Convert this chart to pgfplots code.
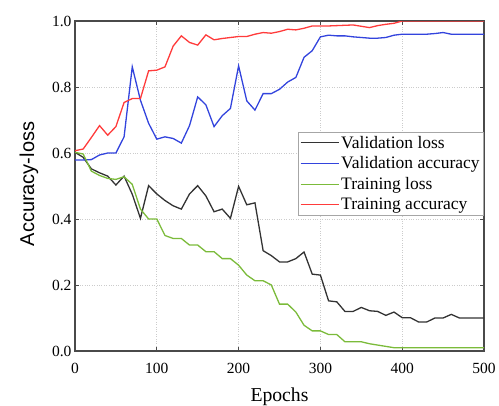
\documentclass[border=0pt]{standalone}
\usepackage{fontspec}
\setmainfont{Liberation Serif}
\newfontfamily\labelsans{Liberation Sans}
\usepackage{pgfplots}
\pgfplotsset{compat=1.18}

\definecolor{vloss}{HTML}{333333}
\definecolor{vacc}{HTML}{3344DD}
\definecolor{tloss}{HTML}{7BBB3A}
\definecolor{tacc}{HTML}{FF3B3B}
\definecolor{frame}{HTML}{4A4A4A}

\begin{document}
\begin{tikzpicture}
\begin{axis}[
    scale only axis,
    width=409pt,
    height=330pt,
    xmin=0, xmax=500,
    ymin=0, ymax=1,
    xtick={0,100,200,300,400,500},
    ytick={0,0.2,0.4,0.6,0.8,1.0},
    tick align=inside,
    major tick length=4pt,
    tick style={frame, line width=1pt},
    axis line style={frame, line width=1.4pt},
    grid=major,
    grid style={dotted, gray!40, line width=0.8pt},
    xlabel={Epochs},
    ylabel={\labelsans Accuracy-loss},
    xlabel style={font=\fontsize{19.7}{22}\selectfont,
        at={(axis description cs:0.5,0)}, anchor=base, yshift=-50.5pt},
    ylabel style={font=\fontsize{20}{22}\selectfont,
        at={(axis description cs:-0.1125,0.506)}, anchor=center},
    tick label style={font=\fontsize{15.5}{18}\selectfont},
    xticklabel style={anchor=base, yshift=-22pt},
    /pgf/number format/assume math mode=true,
    y tick label style={/pgf/number format/.cd, fixed, fixed zerofill, precision=1},
    legend style={
        at={(1,0.6645)}, anchor=north east,
        draw=gray!70, line width=0.6pt,
        font=\fontsize{17.5}{19}\selectfont,
        row sep=3pt, inner sep=2pt
    },
    legend cell align=left,
    legend image code/.code={\draw[#1, line width=1pt] (0pt,0pt) -- (38pt,0pt);},
    every axis plot/.append style={line width=1.3pt},
]

% Validation loss
\addplot[color=vloss] coordinates {
(0,0.602) (10,0.587) (20,0.552) (30,0.540) (40,0.530) (50,0.503)
(60,0.530) (70,0.475) (80,0.402) (90,0.501) (100,0.476) (110,0.456)
(120,0.440) (130,0.430) (140,0.476) (150,0.501) (160,0.470) (170,0.422)
(180,0.430) (190,0.402) (200,0.499) (210,0.443) (220,0.449) (230,0.304)
(240,0.289) (250,0.270) (260,0.270) (270,0.280) (280,0.300) (290,0.233)
(300,0.230) (310,0.152) (320,0.149) (330,0.120) (340,0.120) (350,0.132)
(360,0.122) (370,0.120) (380,0.108) (390,0.118) (400,0.101) (410,0.101)
(420,0.088) (430,0.088) (440,0.100) (450,0.100) (460,0.111) (470,0.100)
(480,0.100) (490,0.100) (500,0.100)
};
\addlegendentry{Validation loss}

% Validation accuracy
\addplot[color=vacc] coordinates {
(0,0.579) (10,0.579) (20,0.580) (30,0.594) (40,0.600) (50,0.600)
(60,0.649) (70,0.861) (80,0.760) (90,0.690) (100,0.642) (110,0.649)
(120,0.644) (130,0.630) (140,0.683) (150,0.770) (160,0.746) (170,0.680)
(180,0.713) (190,0.735) (200,0.864) (210,0.758) (220,0.730) (230,0.780)
(240,0.780) (250,0.793) (260,0.815) (270,0.829) (280,0.890) (290,0.910)
(300,0.952) (310,0.957) (320,0.955) (330,0.955) (340,0.952) (350,0.950)
(360,0.948) (370,0.948) (380,0.950) (390,0.957) (400,0.960) (410,0.960)
(420,0.960) (430,0.960) (440,0.962) (450,0.965) (460,0.960) (470,0.960)
(480,0.960) (490,0.960) (500,0.960)
};
\addlegendentry{Validation accuracy}

% Training loss
\addplot[color=tloss] coordinates {
(0,0.602) (10,0.597) (20,0.545) (30,0.532) (40,0.523) (50,0.520)
(60,0.528) (70,0.505) (80,0.430) (90,0.400) (100,0.400) (110,0.350)
(120,0.341) (130,0.341) (140,0.321) (150,0.321) (160,0.301) (170,0.301)
(180,0.280) (190,0.280) (200,0.260) (210,0.230) (220,0.213) (230,0.213)
(240,0.200) (250,0.142) (260,0.142) (270,0.118) (280,0.078) (290,0.061)
(300,0.061) (310,0.050) (320,0.050) (330,0.028) (340,0.028) (350,0.028)
(360,0.022) (370,0.018) (380,0.014) (390,0.010) (400,0.010) (410,0.010)
(420,0.010) (430,0.010) (440,0.010) (450,0.010) (460,0.010) (470,0.010)
(480,0.010) (490,0.010) (500,0.010)
};
\addlegendentry{Training loss}

% Training accuracy
\addplot[color=tacc] coordinates {
(0,0.607) (10,0.612) (20,0.647) (30,0.683) (40,0.654) (50,0.680)
(60,0.753) (70,0.765) (80,0.765) (90,0.849) (100,0.851) (110,0.861)
(120,0.924) (130,0.955) (140,0.935) (150,0.927) (160,0.958) (170,0.943)
(180,0.947) (190,0.950) (200,0.953) (210,0.953) (220,0.960) (230,0.965)
(240,0.963) (250,0.968) (260,0.975) (270,0.973) (280,0.978) (290,0.985)
(300,0.985) (310,0.985) (320,0.986) (330,0.987) (340,0.988) (350,0.984)
(360,0.980) (370,0.986) (380,0.990) (390,0.993) (400,1.000) (410,1.000)
(420,1.000) (430,1.000) (440,1.000) (450,1.000) (460,1.000) (470,1.000)
(480,1.000) (490,1.000) (500,1.000)
};
\addlegendentry{Training accuracy}

\end{axis}
\pgfresetboundingbox
\path[use as bounding box]
    ([xshift=-75pt,yshift=21pt]current axis.north west)
    rectangle ([xshift=15pt,yshift=-54pt]current axis.south east);
\end{tikzpicture}
\end{document}
